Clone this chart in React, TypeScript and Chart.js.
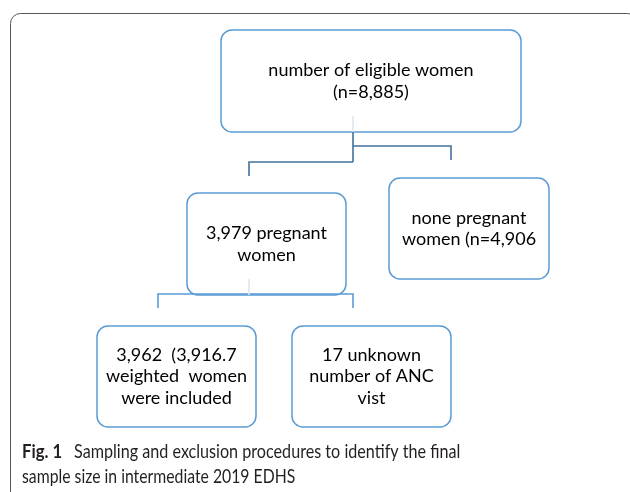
import React, { useEffect, useRef } from "react";
import { Chart, registerables } from "chart.js";

Chart.register(...registerables);

// Flowchart content
const nodeLabels: string[][] = [
  ["number of eligible women", "(n=8,885)"],
  ["3,979 pregnant", "women"],
  ["none pregnant", "women (n=4,906"],
  ["3,962  (3,916.7", "weighted  women", "were included"],
  ["17 unknown", "number of ANC", "vist"],
];
// node extents in diagram units (left, right, top, bottom)
const nodeLeft = [221, 187, 389, 97, 292];
const nodeRight = [521, 346, 549, 256, 451];
const nodeTop = [30, 193, 178, 326, 326];
const nodeBottom = [132, 295, 279, 427, 427];

// connector polylines (diagram units)
const connectorsDark: { x: number; y: number }[][] = [
  [{ x: 353, y: 132 }, { x: 353, y: 162 }],
  [{ x: 353, y: 146 }, { x: 451, y: 146 }, { x: 451, y: 160 }],
  [{ x: 353, y: 162 }, { x: 249, y: 162 }, { x: 249, y: 176 }],
];
const connectorsLight: { x: number; y: number }[][] = [
  [{ x: 158, y: 308 }, { x: 158, y: 294 }, { x: 353, y: 294 }, { x: 353, y: 308 }],
];
const connectorsPale: { x: number; y: number }[][] = [
  [{ x: 353, y: 116 }, { x: 353, y: 132 }],
  [{ x: 249, y: 279 }, { x: 249, y: 295 }],
];

const captionBold = "Fig. 1";
const captionLine1 = "Sampling and exclusion procedures to identify the final";
const captionLine2 = "sample size in intermediate 2019 EDHS";

function roundRect(ctx: CanvasRenderingContext2D, x: number, y: number, w: number, h: number, r: number) {
  ctx.beginPath();
  ctx.moveTo(x + r, y);
  ctx.lineTo(x + w - r, y);
  ctx.arcTo(x + w, y, x + w, y + r, r);
  ctx.lineTo(x + w, y + h - r);
  ctx.arcTo(x + w, y + h, x + w - r, y + h, r);
  ctx.lineTo(x + r, y + h);
  ctx.arcTo(x, y + h, x, y + h - r, r);
  ctx.lineTo(x, y + r);
  ctx.arcTo(x, y, x + r, y, r);
  ctx.closePath();
}

function narrowText(ctx: CanvasRenderingContext2D, s: string, x: number, y: number, k: number) {
  ctx.save();
  ctx.translate(x, y);
  ctx.scale(k, 1);
  ctx.fillText(s, 0, 0);
  ctx.restore();
}

const flowPlugin = {
  id: "flowPlugin",
  beforeDatasetsDraw(chart: any) {
    const ctx: CanvasRenderingContext2D = chart.ctx;
    const xs = chart.scales.x;
    const ys = chart.scales.y;
    ctx.save();
    // frame
    ctx.strokeStyle = "#555555";
    ctx.lineWidth = 1;
    roundRect(ctx, xs.getPixelForValue(10) + 0.5, ys.getPixelForValue(13) + 0.5, 627, 500, 10);
    ctx.stroke();
    // boxes
    ctx.strokeStyle = "#5b9bd5";
    ctx.lineWidth = 1.5;
    for (let i = 0; i < nodeLabels.length; i++) {
      const l = xs.getPixelForValue(nodeLeft[i]);
      const r = xs.getPixelForValue(nodeRight[i]);
      const t = ys.getPixelForValue(nodeTop[i]);
      const b = ys.getPixelForValue(nodeBottom[i]);
      roundRect(ctx, l, t, r - l, b - t, 11);
      ctx.fillStyle = "#ffffff";
      ctx.fill();
      ctx.stroke();
      ctx.fillStyle = "#000000";
      ctx.font = "18px Lato";
      ctx.textAlign = "center";
      ctx.textBaseline = "middle";
      const lines = nodeLabels[i];
      const cx = (l + r) / 2;
      const cy = (t + b) / 2;
      const lh = 21.5;
      lines.forEach((s, k) => {
        ctx.fillText(s, cx, cy + (k - (lines.length - 1) / 2) * lh);
      });
    }
    // caption
    ctx.textAlign = "left";
    ctx.textBaseline = "alphabetic";
    ctx.fillStyle = "#231f20";
    ctx.font = "bold 19px Lato";
    const x0 = xs.getPixelForValue(22);
    narrowText(ctx, captionBold, x0, ys.getPixelForValue(458), 0.88);
    ctx.font = "19px Lato";
    narrowText(ctx, captionLine1, xs.getPixelForValue(74), ys.getPixelForValue(458), 0.85);
    narrowText(ctx, captionLine2, x0, ys.getPixelForValue(483), 0.83);
    ctx.restore();
  },
};

export default function App() {
  const ref = useRef<HTMLCanvasElement | null>(null);
  useEffect(() => {
    document.body.style.margin = "0";
    const mk = (data: { x: number; y: number }[], color: string) => ({
      data,
      borderColor: color,
      borderWidth: 1.6,
      pointRadius: 0,
      showLine: true,
      tension: 0,
      fill: false,
    });
    const datasets = [
      ...connectorsPale.map((d) => mk(d, "#dce6f1")),
      ...connectorsDark.map((d) => mk(d, "#41719c")),
      ...connectorsLight.map((d) => mk(d, "#5b9bd5")),
    ];
    const chart = new Chart(ref.current as HTMLCanvasElement, {
      type: "scatter",
      data: { datasets },
      options: {
        animation: false,
        responsive: false,
        devicePixelRatio: 1,
        layout: { padding: 0 },
        plugins: { legend: { display: false }, tooltip: { enabled: false } },
        scales: {
          x: { type: "linear", min: 0, max: 630, display: false },
          y: { type: "linear", min: 0, max: 492, reverse: true, display: false },
        },
      },
      plugins: [flowPlugin],
    } as any);
    return () => chart.destroy();
  }, []);
  return (
    <div style={{ position: "fixed", left: 0, top: 0, width: 630, height: 492, background: "#fff" }}>
      <canvas ref={ref} width={630} height={492} style={{ display: "block" }} />
    </div>
  );
}
